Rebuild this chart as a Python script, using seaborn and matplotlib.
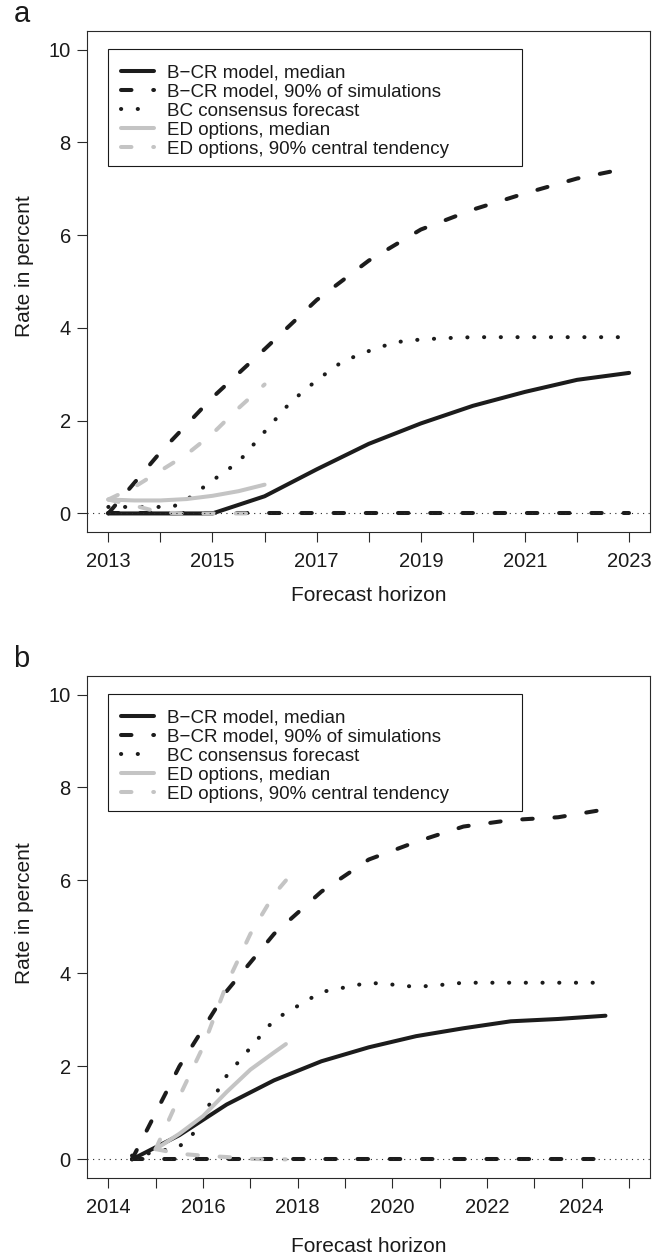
import matplotlib
matplotlib.use("Agg")
import matplotlib.pyplot as plt
from matplotlib.patches import Rectangle
import seaborn as sns

# ---------------------------------------------------------------- data
# Panel a: forecast made in 2013
a_years = [2013, 2014, 2015, 2016, 2017, 2018, 2019, 2020, 2021, 2022, 2023]
a_bcr_median = [0.00, 0.00, 0.00, 0.37, 0.95, 1.50, 1.94, 2.32, 2.62, 2.88, 3.03]
a_bcr_upper = [0.00, 1.32, 2.50, 3.54, 4.60, 5.45, 6.12, 6.55, 6.90, 7.22, 7.45]
a_bcr_lower = [0.00, 0.00, 0.00, 0.00, 0.00, 0.00, 0.00, 0.00, 0.00, 0.00, 0.00]

a_bc_years = [2013, 2014, 2014.25, 2014.5, 2014.75, 2015, 2015.5, 2016, 2016.5,
              2017, 2017.5, 2018, 2018.5, 2019, 2019.5, 2020, 2021, 2022, 2023]
a_bc = [0.14, 0.14, 0.15, 0.29, 0.50, 0.71, 1.11, 1.76, 2.40,
        2.87, 3.28, 3.50, 3.69, 3.75, 3.78, 3.80, 3.80, 3.80, 3.80]

a_ed_years = [2013, 2013.5, 2014, 2014.5, 2015, 2015.5, 2016]
a_ed_median = [0.30, 0.28, 0.28, 0.31, 0.38, 0.48, 0.62]
a_ed_upper = [0.30, 0.57, 0.92, 1.27, 1.72, 2.27, 2.78]
a_ed_lower = [0.30, 0.17, 0.02, 0.00, 0.00, 0.00, 0.00]

a_tick_years = [2013, 2014, 2015, 2016, 2017, 2018, 2019, 2020, 2021, 2022, 2023]
a_tick_labels = ["2013", "", "2015", "", "2017", "", "2019", "", "2021", "", "2023"]

# Panel b: forecast made in mid-2014
b_years = [2014.5, 2015.5, 2016.5, 2017.5, 2018.5, 2019.5, 2020.5, 2021.5,
           2022.5, 2023.5, 2024.5]
b_bcr_median = [0.00, 0.52, 1.18, 1.70, 2.11, 2.41, 2.65, 2.82, 2.97, 3.02, 3.09]
b_bcr_upper = [0.00, 2.00, 3.62, 4.85, 5.76, 6.45, 6.83, 7.16, 7.30, 7.36, 7.53]
b_bcr_lower = [0.00, 0.00, 0.00, 0.00, 0.00, 0.00, 0.00, 0.00, 0.00, 0.00, 0.00]

b_bc_years = [2014.5, 2015, 2015.5, 2015.75, 2016, 2016.5, 2017, 2017.5, 2018,
              2018.5, 2019, 2019.5, 2020, 2020.5, 2021, 2021.5, 2022, 2022.5,
              2023, 2023.5, 2024, 2024.5]
b_bc = [0.08, 0.15, 0.28, 0.48, 0.95, 1.80, 2.40, 3.00, 3.30,
        3.60, 3.70, 3.80, 3.76, 3.71, 3.75, 3.80, 3.80, 3.80,
        3.80, 3.80, 3.80, 3.80]

b_ed_years = [2015, 2015.5, 2016, 2016.5, 2017, 2017.5, 2017.75]
b_ed_median = [0.22, 0.55, 0.93, 1.45, 1.93, 2.30, 2.48]
b_ed_upper = [0.22, 1.35, 2.42, 3.77, 4.85, 5.70, 6.00]
b_ed_lower = [0.22, 0.12, 0.08, 0.05, 0.01, 0.00, 0.00]

b_tick_years = [2014, 2015, 2016, 2017, 2018, 2019, 2020, 2021, 2022, 2023, 2024, 2025]
b_tick_labels = ["2014", "", "2016", "", "2018", "", "2020", "", "2022", "", "2024", ""]

y_ticks = [0, 2, 4, 6, 8, 10]

series_labels = [
    "B\u2212CR model, median",
    "B\u2212CR model, 90% of simulations",
    "BC consensus forecast",
    "ED options, median",
    "ED options, 90% central tendency",
]

# ---------------------------------------------------------------- style
sns.set_theme(style="ticks")
plt.rcParams["font.family"] = ["Liberation Sans", "DejaVu Sans"]
plt.rcParams.update({
    "axes.edgecolor": "#2a2a2a",
    "axes.linewidth": 0.8,
    "xtick.color": "#2a2a2a",
    "ytick.color": "#2a2a2a",
    "xtick.labelcolor": "#1a1a1a",
    "ytick.labelcolor": "#1a1a1a",
    "text.color": "#1a1a1a",
    "axes.labelcolor": "#1a1a1a",
})

BLACK = "#1c1c1c"
GREY = "#c4c4c4"
LW = 2.9
DASHED = (0, (2.6, 5.4))
DOTTED = (0, (0.05, 4.1))


def draw_panel(ax, years, median, upper, lower, bc_years, bc,
               ed_years, ed_median, ed_upper, ed_lower,
               xlim, tick_years, tick_labels, letter):
    common = dict(ax=ax, lw=LW, legend=False, errorbar=None)
    sns.lineplot(x=years, y=median, color=BLACK, label=series_labels[0],
                 solid_capstyle="round", **common)
    sns.lineplot(x=years, y=upper, color=BLACK, linestyle=DASHED,
                 dash_capstyle="round", label=series_labels[1], **common)
    sns.lineplot(x=years, y=lower, color=BLACK, linestyle=DASHED,
                 dash_capstyle="round", **common)
    sns.lineplot(x=bc_years, y=bc, color=BLACK, linestyle=DOTTED,
                 dash_capstyle="round", label=series_labels[2], **common)
    sns.lineplot(x=ed_years, y=ed_median, color=GREY, label=series_labels[3],
                 solid_capstyle="round", **common)
    sns.lineplot(x=ed_years, y=ed_upper, color=GREY, linestyle=DASHED,
                 dash_capstyle="round", label=series_labels[4], **common)
    sns.lineplot(x=ed_years, y=ed_lower, color=GREY, linestyle=DASHED,
                 dash_capstyle="round", **common)
    # zero reference line
    ax.axhline(0, color="#2a2a2a", lw=0.8, linestyle=(0, (1, 4)), zorder=5)

    ax.set_xlim(*xlim)
    ax.set_ylim(-0.4, 10.4)
    ax.set_xticks(tick_years)
    ax.set_xticklabels(tick_labels)
    ax.set_yticks(y_ticks)
    ax.set_yticklabels([str(v) for v in y_ticks])
    ax.tick_params(axis="both", direction="out", length=7.5, width=0.8,
                   labelsize=14.5)
    ax.tick_params(axis="x", pad=7)
    ax.tick_params(axis="y", pad=4.5)
    for s in ax.spines.values():
        s.set_visible(True)

    ax.set_xlabel("Forecast horizon", fontsize=15)
    ax.set_ylabel("Rate in percent", fontsize=15)
    ax.xaxis.label.set_va("baseline")
    ax.yaxis.label.set_va("center")

    handles, labels = ax.get_legend_handles_labels()
    ax.legend(handles, labels, loc="upper left", bbox_to_anchor=(0.059, 0.933),
              bbox_transform=ax.transAxes, frameon=False, borderaxespad=0,
              borderpad=0, fontsize=13.5, handlelength=1.8, handletextpad=0.66,
              labelspacing=0.1)
    ax.add_patch(Rectangle((0.037, 0.7305), 0.7355, 0.2336, transform=ax.transAxes,
                           fill=False, edgecolor="#1a1a1a", lw=0.8, zorder=6))
    ax.text(-0.132, 1.005, letter, transform=ax.transAxes, fontsize=21,
            va="bottom", ha="left")


fig = plt.figure(figsize=(6.52, 12.55), dpi=100)
ax_a = fig.add_axes([0.1342, 0.5761, 0.8627, 0.3992])
ax_b = fig.add_axes([0.1342, 0.0614, 0.8627, 0.4000])

draw_panel(ax_a, a_years, a_bcr_median, a_bcr_upper, a_bcr_lower,
           a_bc_years, a_bc, a_ed_years, a_ed_median, a_ed_upper, a_ed_lower,
           (2012.6, 2023.4), a_tick_years, a_tick_labels, "a")
draw_panel(ax_b, b_years, b_bcr_median, b_bcr_upper, b_bcr_lower,
           b_bc_years, b_bc, b_ed_years, b_ed_median, b_ed_upper, b_ed_lower,
           (2013.56, 2025.44), b_tick_years, b_tick_labels, "b")

ax_a.xaxis.set_label_coords(0.5, -0.138)
ax_a.yaxis.set_label_coords(-0.112, 0.53)
ax_b.xaxis.set_label_coords(0.5, -0.147)
ax_b.yaxis.set_label_coords(-0.112, 0.527)

fig.savefig("out.png", dpi=100)
